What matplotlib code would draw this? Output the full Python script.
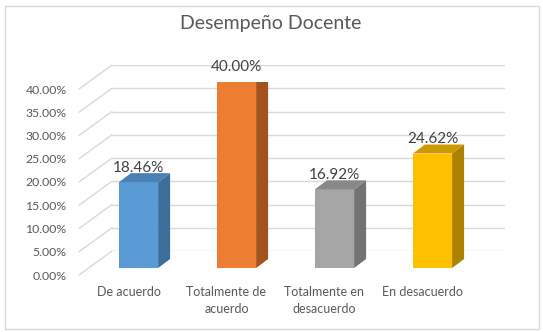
import matplotlib
matplotlib.use("Agg")
import matplotlib.pyplot as plt
from matplotlib.patches import Polygon, Rectangle, ConnectionPatch

plt.rcParams['font.family'] = ['Lato', 'DejaVu Sans']

# data
categories = ["De acuerdo", "Totalmente de\nacuerdo", "Totalmente en\ndesacuerdo", "En desacuerdo"]
values = [18.46, 40.00, 16.92, 24.62]
front_colors = ["#5B9BD5", "#ED7D31", "#A5A5A5", "#FFC000"]
side_colors = ["#3C6E9C", "#A4521C", "#737373", "#AC8200"]
top_colors = ["#4A80B4", "#C2621F", "#888888", "#CC9A00"]
yticks = [0, 5, 10, 15, 20, 25, 30, 35, 40]
title = "Desempeño Docente"

W, H = 543, 332
fig = plt.figure(figsize=(W / 100, H / 100), dpi=100)


def px(left, bottom, width, height):
    # pixel box (from bottom-left) -> figure fraction
    return [left / W, bottom / H, width / W, height / H]


# chart border
fig.patches.append(Rectangle((4.5 / W, 3.5 / H), 534 / W, 323 / H, transform=fig.transFigure,
                             fill=False, edgecolor="#d9d9d9", linewidth=1.0))

text_color = "#595959"

# back wall with gridlines
ax_back = fig.add_axes(px(112, 81, 393, 186))
ax_back.set_ylim(0, 40)
ax_back.set_xlim(0, 1)
for v in yticks:
    ax_back.axhline(v, color="#d9d9d9", linewidth=1.0)
ax_back.axis("off")

# front label plane (tick labels + slanted floor lines)
ax_lab = fig.add_axes(px(79, 57, 1, 186))
ax_lab.set_ylim(0, 40)
ax_lab.set_xlim(0, 1)
ax_lab.set_yticks(yticks)
ax_lab.set_yticklabels(["{:.2f}%".format(v) for v in yticks], fontsize=8.8, color=text_color)
ax_lab.tick_params(axis="y", length=0, pad=9)
ax_lab.set_xticks([])
for s in ax_lab.spines.values():
    s.set_visible(False)
ax_lab.patch.set_visible(False)
for v in yticks:
    con = ConnectionPatch(xyA=(0, v), coordsA=ax_lab.transData,
                          xyB=(0, v), coordsB=ax_back.transData,
                          color="#d9d9d9", linewidth=1.0)
    fig.add_artist(con)

# bars
ax = fig.add_axes(px(89.5, 64, 392, 186))
ax.set_xlim(-0.5, 3.5)
ax.set_ylim(0, 40)
ax.axis("off")

width = 0.4
dx = 12 / 98.0      # depth in data units
dy = 9 / 4.65

x = list(range(len(values)))
ax.bar(x, values, width=width, color=front_colors, zorder=3)
for i, v in enumerate(values):
    x0, x1 = i - width / 2, i + width / 2
    ax.add_patch(Polygon([(x1, 0), (x1 + dx, dy), (x1 + dx, v + dy), (x1, v)],
                         closed=True, facecolor=side_colors[i], edgecolor="none", zorder=3))
    ax.add_patch(Polygon([(x0, v), (x1, v), (x1 + dx, v + dy), (x0 + dx, v + dy)],
                         closed=True, facecolor=top_colors[i], edgecolor="none", zorder=3))
    ax.annotate("{:.2f}%".format(v), xy=(i, v), xytext=(0, 5.5), textcoords="offset points",
                ha="center", va="bottom", fontsize=11, color="#404040", annotation_clip=False)
    ax.annotate(categories[i], xy=(i, 0), xytext=(-7.2, -13), textcoords="offset points",
                ha="center", va="top", fontsize=9, color=text_color,
                multialignment="center", linespacing=1.45, annotation_clip=False)

fig.text(271 / W, 1 - 24 / H, title, ha="center", va="center", fontsize=14, color=text_color)

fig.savefig("out.png", dpi=100)
